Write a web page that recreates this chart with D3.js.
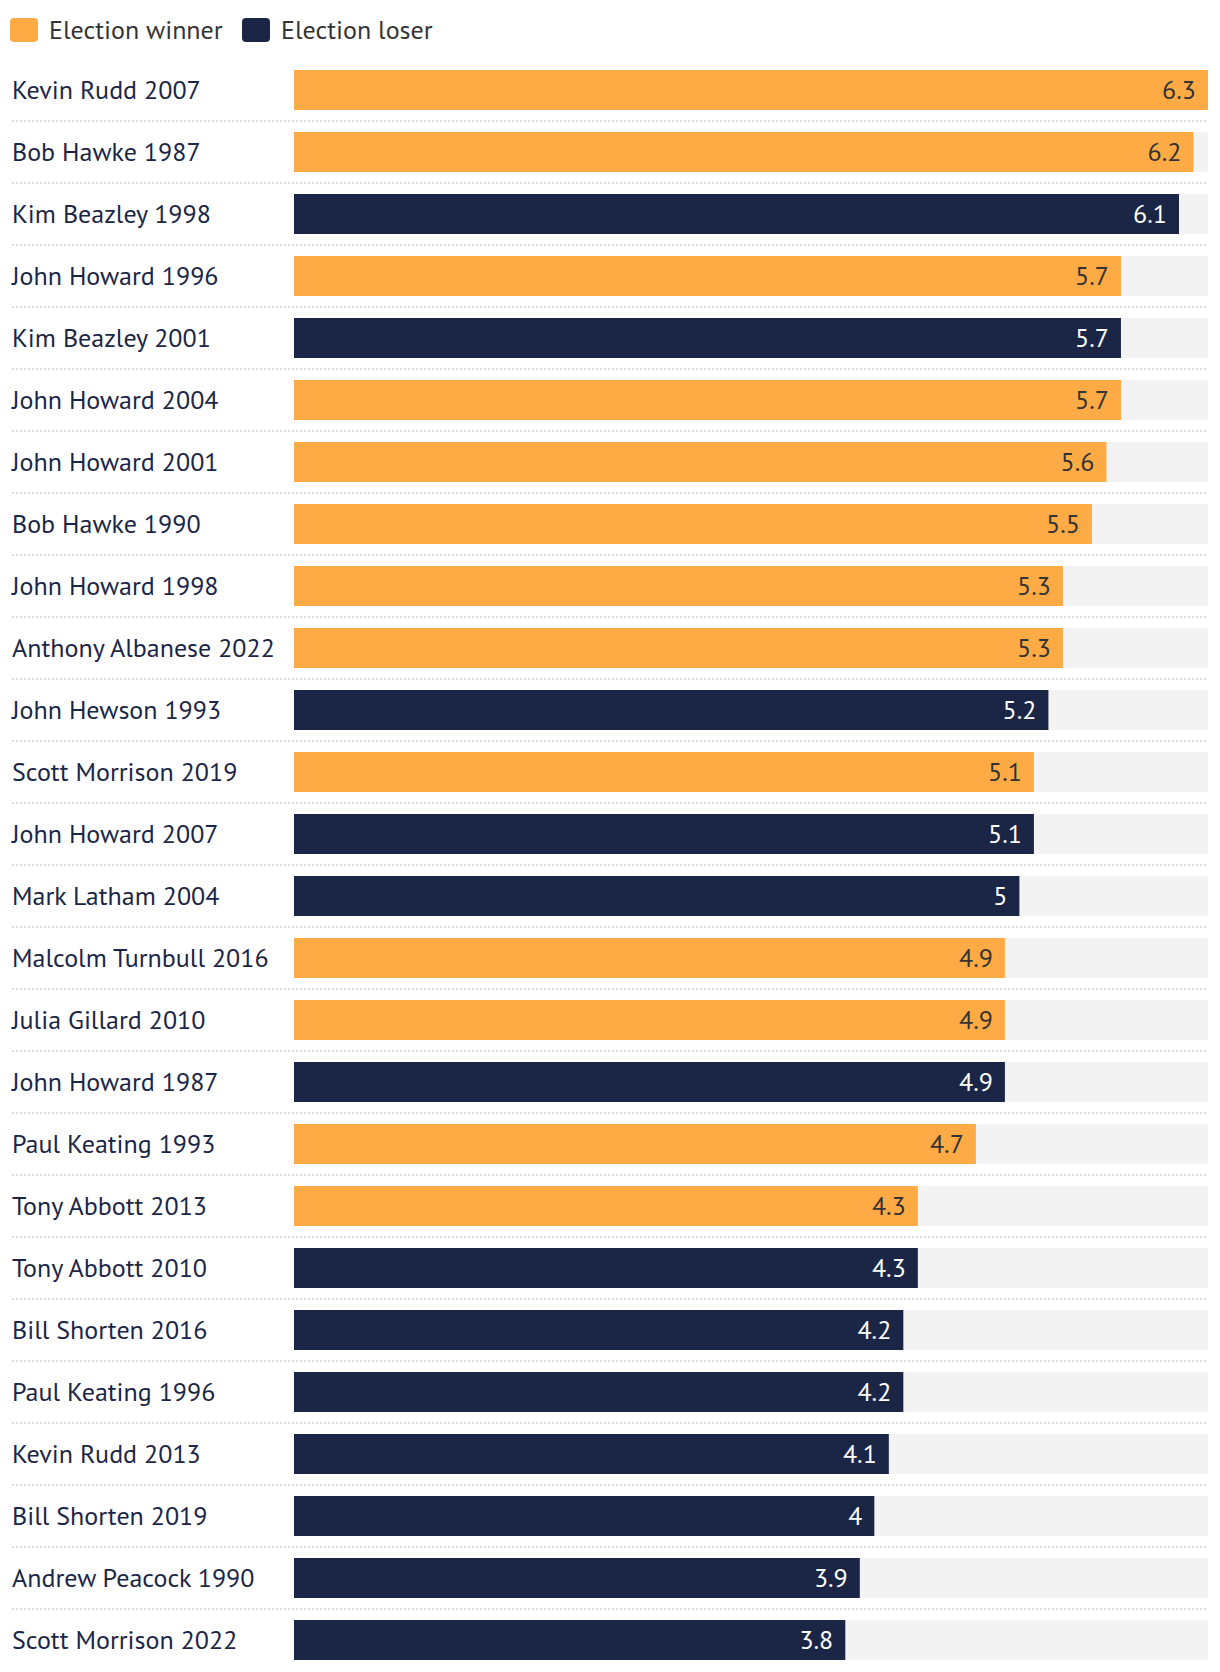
<!DOCTYPE html>
<html>
<head>
<meta charset="utf-8">
<script src="https://cdn.jsdelivr.net/npm/d3@7"></script>
<style>
  html, body { margin: 0; padding: 0; background: #fff; }
  svg { display: block; font-family: "PT Sans", Lato, "Noto Sans", sans-serif; }
</style>
</head>
<body>
<svg id="chart" width="1220" height="1672"></svg>
<script>
const categories = [
  "Kevin Rudd 2007", "Bob Hawke 1987", "Kim Beazley 1998", "John Howard 1996",
  "Kim Beazley 2001", "John Howard 2004", "John Howard 2001", "Bob Hawke 1990",
  "John Howard 1998", "Anthony Albanese 2022", "John Hewson 1993", "Scott Morrison 2019",
  "John Howard 2007", "Mark Latham 2004", "Malcolm Turnbull 2016", "Julia Gillard 2010",
  "John Howard 1987", "Paul Keating 1993", "Tony Abbott 2013", "Tony Abbott 2010",
  "Bill Shorten 2016", "Paul Keating 1996", "Kevin Rudd 2013", "Bill Shorten 2019",
  "Andrew Peacock 1990", "Scott Morrison 2022"
];
const values = [6.3, 6.2, 6.1, 5.7, 5.7, 5.7, 5.6, 5.5, 5.3, 5.3, 5.2, 5.1, 5.1, 5.0,
  4.9, 4.9, 4.9, 4.7, 4.3, 4.3, 4.2, 4.2, 4.1, 4.0, 3.9, 3.8];
const outcome = ["W", "W", "L", "W", "L", "W", "W", "W", "W", "W", "L", "W", "L", "L",
  "W", "W", "L", "W", "W", "L", "L", "L", "L", "L", "L", "L"];
const seriesNames = ["Election winner", "Election loser"];
const seriesKeys = ["W", "L"];

const data = categories.map((c, i) => ({ name: c, value: values[i], type: outcome[i] }));

const colors = { W: "#FFAB45", L: "#1B2646" };
const labelColors = { W: "#333333", L: "#FFFFFF" };

const svg = d3.select("#chart");
const plotLeft = 294, plotRight = 1208;
const plotTop = 70, rowStep = 62, barH = 40;
const fontSize = 26;

const x = d3.scaleLinear().domain([0, d3.max(values)]).range([plotLeft, plotRight]);
const pad = (rowStep - barH) / rowStep;
const y = d3.scaleBand()
  .domain(categories)
  .range([plotTop - (rowStep - barH) / 2, plotTop - (rowStep - barH) / 2 + rowStep * categories.length])
  .paddingInner(pad)
  .paddingOuter(pad / 2);

// Legend
const legend = svg.append("g");
const legendPos = [10, 242];
seriesKeys.forEach((k, i) => {
  const g = legend.append("g").attr("transform", `translate(${legendPos[i]},18)`);
  g.append("rect").attr("width", 28).attr("height", 24).attr("rx", 4).attr("fill", colors[k]);
  g.append("text").attr("x", 39).attr("y", 12).attr("dy", "0.35em")
    .attr("font-size", fontSize).attr("fill", "#333").text(seriesNames[i]);
});

// Rows
const rows = svg.append("g").selectAll("g").data(data).join("g");

// separators
rows.filter((d, i) => i < data.length - 1)
  .append("line")
  .attr("x1", 12).attr("x2", plotRight)
  .attr("y1", d => y(d.name) + barH + 11).attr("y2", d => y(d.name) + barH + 11)
  .attr("stroke", "#dddddd").attr("stroke-width", 2).attr("stroke-dasharray", "2,2");

// background tracks
rows.append("rect")
  .attr("x", x(0)).attr("y", d => y(d.name))
  .attr("width", x(d3.max(values)) - x(0)).attr("height", y.bandwidth())
  .attr("fill", "#F3F3F3");

// bars
rows.append("rect")
  .attr("x", x(0)).attr("y", d => y(d.name))
  .attr("width", d => x(d.value) - x(0)).attr("height", y.bandwidth())
  .attr("fill", d => colors[d.type]);

// category labels
rows.append("text")
  .attr("x", 12).attr("y", d => y(d.name) + y.bandwidth() / 2).attr("dy", "0.35em")
  .attr("font-size", fontSize).attr("fill", "#1B2646")
  .text(d => d.name);

// value labels
rows.append("text")
  .attr("x", d => x(d.value) - 12).attr("y", d => y(d.name) + y.bandwidth() / 2).attr("dy", "0.35em")
  .attr("text-anchor", "end")
  .attr("font-size", fontSize).attr("fill", d => labelColors[d.type])
  .text(d => d3.format("~g")(d.value));
</script>
</body>
</html>
